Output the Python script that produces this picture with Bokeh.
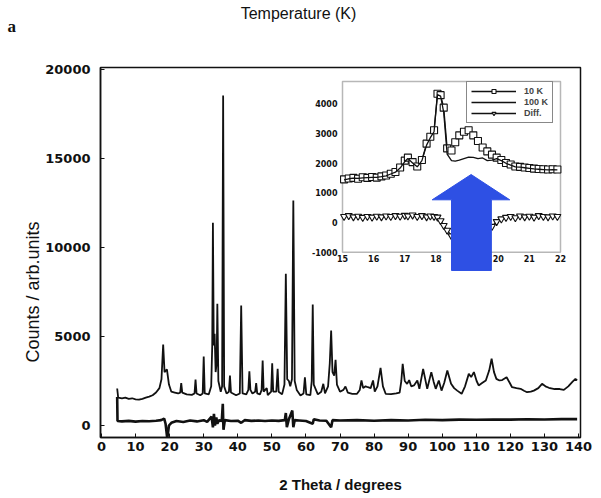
from bokeh.plotting import figure
from bokeh.models import (Range1d, BoxAnnotation, Legend, LegendItem,
                          FixedTicker, Title, Label)
from bokeh.embed import file_html
from bokeh.resources import INLINE
from bokeh.core.properties import value

# ---------------- data ----------------
two_theta = [4.6, 4.9, 6, 7, 8, 9, 10, 11, 12, 13, 14, 15, 16, 17, 17.6, 18.1, 18.5, 19.2, 19.8,
             20.5, 21.5, 22.5, 23.1, 23.4, 23.7, 25, 26.5, 27.3, 27.6, 27.9, 29.0, 29.7, 30.0,
             30.3, 31.5, 32.2, 32.5, 32.7, 32.95, 33.2, 33.5, 33.8, 34.0, 34.3, 35.0, 35.4, 35.7,
             36.0, 36.7, 37.4, 37.7, 38.0, 39.5, 40.6, 41.0, 41.4, 42.5, 43.1, 43.4, 43.7, 44.3,
             45.1, 45.4, 45.7, 46.5, 47.0, 47.3, 47.6, 48.5, 48.8, 49.8, 50.1, 50.4, 51.3, 51.7,
             52.0, 53.0, 53.7, 54.1, 54.5, 55.0, 55.4, 55.9, 56.3, 56.7, 57.3, 58.4, 59.3, 59.7,
             60.1, 61.3, 61.7, 62.0, 62.3, 63.5, 64.5, 65.1, 65.6, 66.5, 67.0, 67.4, 67.8, 68.3,
             68.7, 69.1, 70.0, 71.0, 71.6, 72.3, 73.6, 75.0, 75.8, 76.3, 76.8, 77.5, 78.2, 79.0,
             79.7, 80.2, 81.0, 81.9, 82.6, 83.4, 85, 86.5, 87.5, 88.0, 88.4, 89.0, 89.7, 90.3,
             90.9, 91.7, 92.7, 93.3, 94.4, 95.6, 96.8, 97.5, 98.1, 99.0, 99.8, 100.6, 101.5,
             102.6, 103.5, 104.4, 105.7, 106.7, 107.8, 108.5, 109.3, 110.1, 110.7, 111.8, 112.8,
             113.8, 114.5, 115.2, 115.9, 116.8, 117.6, 118.9, 119.8, 120.5, 121.8, 123.0, 124.0,
             124.9, 126.0, 126.9, 128.2, 129.3, 130.3, 131.3, 133.0, 134.5, 135.7, 137.0, 138.2,
             139.1, 139.6]
counts = [2080, 1560, 1520, 1560, 1500, 1530, 1470, 1450, 1500, 1560, 1620, 1700, 1850, 2100,
          2600, 4550, 3000, 3150, 2300, 1900, 1850, 1800, 1850, 2380, 1850, 1750, 1720, 1800,
          2580, 1800, 1700, 1800, 3880, 1800, 1750, 2200, 4500, 11390, 4500, 5150, 3000, 3500,
          6840, 2500, 1900, 2200, 18540, 2200, 1800, 1900, 2810, 1850, 1700, 1800, 6740, 1800,
          1750, 2000, 3050, 2000, 1800, 1900, 2380, 1800, 1750, 2000, 3650, 1900, 2100, 1700,
          1900, 3500, 1900, 1900, 3180, 1900, 1750, 2300, 8520, 2600, 2500, 2200, 2600, 12640,
          2500, 2000, 1690, 1800, 2710, 1750, 1700, 2500, 6800, 2300, 1750, 1900, 2340, 1800,
          2200, 3500, 5340, 3000, 2800, 3690, 2300, 1900, 2000, 2190, 1850, 1780, 1780, 2000,
          2530, 2100, 2200, 2150, 2100, 2530, 1900, 2200, 3240, 2200, 1780, 1760, 1800, 1850,
          2500, 3460, 2500, 2340, 2550, 2200, 2250, 2530, 2060, 3180, 2060, 3000, 2450, 2060,
          2530, 1960, 2400, 3090, 2340, 2100, 1960, 1780, 2200, 2900, 2720, 3000, 2500, 2250,
          2400, 2530, 3100, 3750, 3000, 2620, 2530, 2550, 2710, 2400, 2150, 2100, 2060, 1950,
          1870, 1900, 1960, 2100, 2340, 2200, 2120, 2050, 2050, 2000, 2200, 2450, 2620, 2530]

diff_theta = [4.6, 4.7, 6, 8, 10, 12, 14, 16, 17.5, 18.4, 18.8, 19.3, 19.8, 20.5, 22, 24, 26,
              28, 30, 31, 32.3, 32.7, 33.0, 33.3, 33.7, 34.0, 34.5, 35.3, 35.6, 35.8, 36.2, 38,
              40, 41, 42, 44, 46, 48, 50, 52, 53.8, 54.1, 54.4, 55, 56.0, 56.3, 56.7, 58, 60,
              62.0, 62.3, 64, 66, 67.4, 67.8, 70, 75, 80, 85, 90, 95, 100, 105, 110, 115, 120,
              125, 130, 135, 139.6]
diff_counts = [1600, 250, 230, 260, 220, 250, 240, 270, 300, 390, 100, -730, 0, 150, 250, 200,
               280, 230, 300, 200, 500, -100, 650, 0, 450, 100, 300, 250, 1220, -240, 300, 250,
               270, 150, 300, 260, 280, 250, 280, 260, 300, 700, -100, 350, 840, -100, 300, 280,
               250, 100, 350, 280, 270, -100, 300, 280, 300, 270, 300, 280, 320, 300, 330, 320,
               340, 330, 350, 340, 360, 360]

inset_theta = [15.05, 15.2, 15.35, 15.5, 15.65, 15.8, 15.95, 16.1, 16.25, 16.4, 16.55, 16.7,
               16.85, 17.0, 17.1, 17.25, 17.4, 17.55, 17.7, 17.82, 17.94, 18.05, 18.15, 18.25,
               18.36, 18.5, 18.62, 18.75, 18.9, 19.05, 19.2, 19.35, 19.5, 19.65, 19.8, 19.95,
               20.1, 20.25, 20.4, 20.55, 20.7, 20.85, 21.0, 21.15, 21.3, 21.45, 21.6, 21.75, 21.9]
inset_10k = [1450, 1480, 1500, 1470, 1520, 1500, 1530, 1510, 1550, 1580, 1640, 1700, 1850, 2080,
             2180, 2030, 1880, 2100, 2650, 2880, 3100, 4330, 4280, 3860, 2490, 2420, 2700, 2930,
             3050, 3100, 2930, 2740, 2520, 2390, 2280, 2180, 2100, 2000, 1950, 1880, 1870, 1850,
             1830, 1810, 1800, 1790, 1780, 1790, 1780]
inset_100k = [1430, 1470, 1490, 1480, 1500, 1510, 1520, 1520, 1540, 1570, 1630, 1690, 1830, 2050,
              2150, 2000, 1870, 2080, 2600, 2850, 3050, 4300, 4250, 3700, 2300, 2080, 2060, 2100,
              2150, 2200, 2190, 2150, 2170, 2080, 2100, 2150, 2080, 1990, 1930, 1870, 1860, 1840,
              1820, 1800, 1790, 1780, 1770, 1780, 1770]
inset_diff = [200, 230, 190, 210, 170, 200, 180, 210, 190, 220, 200, 230, 210, 240, 220, 250,
              200, 230, 190, 220, 200, 180, 60, -100, -260, -450, -600, -680, -720, -700, -620,
              -500, -380, -250, -130, 30, 120, 170, 200, 160, 220, 190, 210, 180, 230, 200, 190,
              220, 200]

main_x_ticks = [0, 10, 20, 30, 40, 50, 60, 70, 80, 90, 100, 110, 120, 130, 140]
main_y_ticks = [0, 5000, 10000, 15000, 20000]
inset_x_ticks = [15, 16, 17, 18, 19, 20, 21, 22]
inset_y_ticks = [-1000, 0, 1000, 2000, 3000, 4000]
inset_y_top = 4740
legend_labels = ["10 K", "100 K", "Diff."]

# ---------------- layout (pixels) ----------------
W, H = 601, 498
FL, FR, FT, FB = 100, 580, 67, 437


def span(a_val, a_px, b_val, b_px, lo_px, hi_px):
    s = (b_px - a_px) / (b_val - a_val)
    return a_val + (lo_px - a_px) / s, a_val + (hi_px - a_px) / s


mx0, mx1 = span(0, 101, 140, 578, FL, FR)
my0, my1 = span(0, 425, 20000, 69, FB, FT)
ix0, ix1 = span(15, 342, 22, 560, FL, FR)
iy0, iy1 = span(0, 222, 4000, 103, FB, FT)

p = figure(width=W, height=H, x_range=Range1d(mx0, mx1), y_range=Range1d(my0, my1),
           output_backend="svg", toolbar_location=None, title=None,
           min_border_left=FL, min_border_right=W - FR, min_border_top=FT,
           min_border_bottom=H - FB)
p.extra_x_ranges = {"inset": Range1d(ix0, ix1)}
p.extra_y_ranges = {"inset": Range1d(iy0, iy1)}

p.grid.visible = False
p.background_fill_color = "white"
p.border_fill_color = "white"
p.outline_line_color = "#111111"
p.outline_line_width = 1.5

for ax in (p.xaxis[0], p.yaxis[0]):
    ax.major_label_text_font = "DejaVu Sans"
    ax.major_label_text_font_style = "bold"
    ax.major_label_text_font_size = "13px"
    ax.major_label_text_color = "#111111"
    ax.major_tick_in = 4
    ax.major_tick_out = 0
    ax.minor_tick_line_color = None
    ax.axis_line_width = 1.5
    ax.axis_line_color = "#111111"
    ax.major_tick_line_color = "#111111"

p.xaxis[0].ticker = FixedTicker(ticks=main_x_ticks)
p.yaxis[0].ticker = FixedTicker(ticks=main_y_ticks)
p.xaxis[0].major_label_standoff = 4
p.yaxis[0].major_label_standoff = 10
p.xaxis[0].axis_label = "2 Theta / degrees"
p.xaxis[0].axis_label_text_font = "Liberation Sans"
p.xaxis[0].axis_label_text_font_style = "bold"
p.xaxis[0].axis_label_text_font_size = "15px"
p.xaxis[0].axis_label_text_color = "#111111"
p.xaxis[0].axis_label_standoff = 22

# main pattern and difference
p.line(two_theta, counts, line_color="#111111", line_width=1.8)
p.line(diff_theta, diff_counts, line_color="#111111", line_width=2.6)

# inset frame
p.add_layout(BoxAnnotation(left=inset_x_ticks[0], right=inset_x_ticks[-1],
                           bottom=inset_y_ticks[0], top=inset_y_top,
                           x_range_name="inset", y_range_name="inset",
                           fill_color="white", fill_alpha=1.0, line_color="#111111",
                           line_width=1.5, level="underlay"))

p.text(x=inset_x_ticks, y=[inset_y_ticks[0]] * len(inset_x_ticks),
       text=[str(t) for t in inset_x_ticks], x_range_name="inset", y_range_name="inset",
       text_align="center", text_baseline="top", y_offset=3,
       text_font=value("DejaVu Sans"), text_font_style="bold", text_font_size="8px",
       text_color="#111111")
p.text(x=[inset_x_ticks[0]] * len(inset_y_ticks), y=inset_y_ticks,
       text=[str(t) for t in inset_y_ticks], x_range_name="inset", y_range_name="inset",
       text_align="right", text_baseline="middle", x_offset=-5,
       text_font=value("DejaVu Sans"), text_font_style="bold", text_font_size="8px",
       text_color="#111111")

l10 = p.line(inset_theta, inset_10k, line_color="#111111", line_width=1.3,
             x_range_name="inset", y_range_name="inset")
s10 = p.scatter(inset_theta, inset_10k, marker="square", size=7, fill_color="white",
                line_color="#111111", line_width=1.1,
                x_range_name="inset", y_range_name="inset")
l100 = p.line(inset_theta, inset_100k, line_color="#111111", line_width=1.3,
              x_range_name="inset", y_range_name="inset")
ld = p.line(inset_theta, inset_diff, line_color="#111111", line_width=1.3,
            x_range_name="inset", y_range_name="inset")
sd = p.scatter(inset_theta, inset_diff, marker="inverted_triangle", size=7,
               fill_color="white", line_color="#111111", line_width=1.1,
               x_range_name="inset", y_range_name="inset")

legend = Legend(items=[LegendItem(label=legend_labels[0], renderers=[l10, s10]),
                       LegendItem(label=legend_labels[1], renderers=[l100]),
                       LegendItem(label=legend_labels[2], renderers=[ld, sd])],
                location=(366, 314), orientation="vertical",
                border_line_color="#111111", border_line_width=1,
                background_fill_color="white", background_fill_alpha=1.0,
                label_text_font="Liberation Sans", label_text_font_size="9px",
                label_text_font_style="bold",
                glyph_width=45, glyph_height=10, label_height=10, spacing=1, padding=4,
                margin=0, label_standoff=8)
p.add_layout(legend, "center")

# blue arrow (annotation, in inset coordinates)
arrow_tip = (19.13, 1613)
arrow_head = (17.88, 20.37, 763)
arrow_shaft = (18.50, 19.78, -1613)
ax_pts = [arrow_tip[0], arrow_head[1], arrow_shaft[1], arrow_shaft[1], arrow_shaft[0],
          arrow_shaft[0], arrow_head[0]]
ay_pts = [arrow_tip[1], arrow_head[2], arrow_head[2], arrow_shaft[2], arrow_shaft[2],
          arrow_head[2], arrow_head[2]]
p.patch(ax_pts, ay_pts, fill_color="#2E50E4", line_color="#2E50E4",
        x_range_name="inset", y_range_name="inset")

# texts around: labels placed in the top side panel (not clipped), canvas coordinates
p.add_layout(Label(x=7, y=26, x_units="canvas", y_units="canvas", text="a",
                   text_font="Liberation Serif", text_font_size="17px",
                   text_font_style="bold", text_baseline="alphabetic",
                   text_color="#111111"), "above")
p.add_layout(Label(x=298, y=13, x_units="canvas", y_units="canvas", text="Temperature (K)",
                   text_font="Liberation Sans", text_font_size="16px",
                   text_align="center", text_baseline="middle",
                   text_color="#111111"), "above")
p.add_layout(Title(text="Counts / arb.units", align="left", offset=75, standoff=0,
                   text_font="Liberation Sans", text_font_size="18px",
                   text_font_style="normal", text_color="#111111"), "left")

open("out.html", "w").write(file_html(p, INLINE))
